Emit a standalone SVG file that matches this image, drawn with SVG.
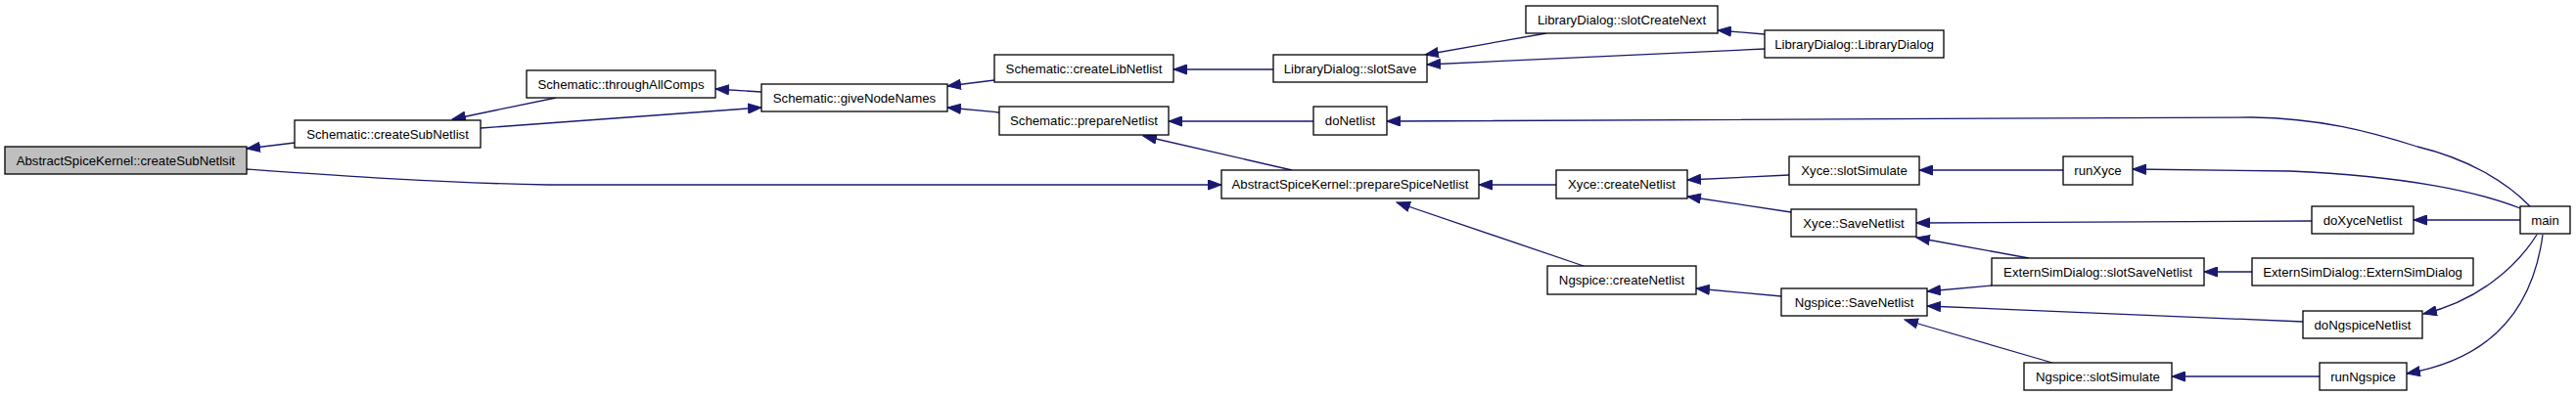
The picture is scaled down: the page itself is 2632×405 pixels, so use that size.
<svg xmlns="http://www.w3.org/2000/svg" width="2632" height="405" viewBox="0 0 2632 405">
<style>
.n rect{fill:#ffffff;stroke:#000000;stroke-width:1.3}
.n.root rect{fill:#bfbfbf}
.n text{font-family:"Liberation Sans",Arial,sans-serif;font-size:13.2px;fill:#000000;text-anchor:middle}
.e path{fill:none;stroke:#191970;stroke-width:1.3;marker-end:url(#ah)}
</style>
<defs>
<marker id="ah" markerUnits="userSpaceOnUse" markerWidth="15" markerHeight="11" viewBox="0 0 15 11" refX="14" refY="5.5" orient="auto">
<polygon points="0.5,0.5 14,5.5 0.5,10.5" fill="#191970" stroke="#191970" stroke-width="1"/>
</marker>
</defs>
<rect width="2632" height="405" fill="#ffffff"/>
<g id="connectors" class="e">
<path d="M301,146 L252,152"/>
<path d="M252,173 C350,180 450,187 560,189 L1248,189"/>
<path d="M568,100 L462,122"/>
<path d="M491,131 L778,110"/>
<path d="M778,94 L731,91"/>
<path d="M1016,82 L968,88"/>
<path d="M1021,115 L968,110"/>
<path d="M1301,71 L1199,71"/>
<path d="M1342,124 L1194,124"/>
<path d="M1320,174 L1168,139"/>
<path d="M1580,34 L1456,56"/>
<path d="M1803,50 L1458,66"/>
<path d="M1803,35 L1755,31"/>
<path d="M2585,211 C2560,185 2520,162 2470,150 C2420,134 2370,121 2300,120 L1417,124"/>
<path d="M1590,189 L1511,189"/>
<path d="M1618,272 L1427,207"/>
<path d="M1828,179 L1724,184"/>
<path d="M1830,217 L1724,201"/>
<path d="M2108,174 L1961,174"/>
<path d="M2575,213 C2535,197 2460,180 2340,175 L2179,173"/>
<path d="M2362,226 L1958,228"/>
<path d="M2575,225 L2466,225"/>
<path d="M2073,264 L1958,243"/>
<path d="M2301,278 L2252,278"/>
<path d="M2035,292 L1969,298"/>
<path d="M2353,329 L1969,313"/>
<path d="M2097,371 L1946,327"/>
<path d="M1820,303 L1733,295"/>
<path d="M2592,240 C2570,275 2530,308 2476,321"/>
<path d="M2598,240 C2590,300 2560,365 2459,382"/>
<path d="M2370,385 L2219,385"/>
</g>
<g id="n1" class="n root"><rect x="5" y="150" width="247" height="28"/><text x="128.5" y="168.6">AbstractSpiceKernel::createSubNetlsit</text></g>
<g id="n2" class="n"><rect x="301" y="123" width="190" height="28"/><text x="396" y="141.6">Schematic::createSubNetlist</text></g>
<g id="n3" class="n"><rect x="538" y="72" width="193" height="28"/><text x="634.5" y="90.6">Schematic::throughAllComps</text></g>
<g id="n4" class="n"><rect x="778" y="86" width="190" height="28"/><text x="873" y="104.6">Schematic::giveNodeNames</text></g>
<g id="n5" class="n"><rect x="1016" y="56" width="183" height="28"/><text x="1107.5" y="74.6">Schematic::createLibNetlist</text></g>
<g id="n6" class="n"><rect x="1021" y="109" width="173" height="29"/><text x="1107.5" y="128.1">Schematic::prepareNetlist</text></g>
<g id="n7" class="n"><rect x="1301" y="56" width="157" height="28"/><text x="1379.5" y="74.6">LibraryDialog::slotSave</text></g>
<g id="n8" class="n"><rect x="1342" y="109" width="75" height="29"/><text x="1379.5" y="128.1">doNetlist</text></g>
<g id="n9" class="n"><rect x="1559" y="6" width="196" height="28"/><text x="1657" y="24.6">LibraryDialog::slotCreateNext</text></g>
<g id="n10" class="n"><rect x="1803" y="31" width="183" height="28"/><text x="1894.5" y="49.6">LibraryDialog::LibraryDialog</text></g>
<g id="n11" class="n"><rect x="1248" y="174" width="263" height="29"/><text x="1379.5" y="193.1">AbstractSpiceKernel::prepareSpiceNetlist</text></g>
<g id="n12" class="n"><rect x="1590" y="174" width="134" height="29"/><text x="1657" y="193.1">Xyce::createNetlist</text></g>
<g id="n13" class="n"><rect x="1581" y="272" width="152" height="29"/><text x="1657" y="291.1">Ngspice::createNetlist</text></g>
<g id="n14" class="n"><rect x="1828" y="160" width="133" height="29"/><text x="1894.5" y="179.1">Xyce::slotSimulate</text></g>
<g id="n15" class="n"><rect x="1830" y="214" width="128" height="28"/><text x="1894" y="232.6">Xyce::SaveNetlist</text></g>
<g id="n16" class="n"><rect x="2108" y="160" width="71" height="29"/><text x="2143.5" y="179.1">runXyce</text></g>
<g id="n17" class="n"><rect x="1820" y="295" width="149" height="28"/><text x="1894.5" y="313.6">Ngspice::SaveNetlist</text></g>
<g id="n18" class="n"><rect x="2035" y="264" width="217" height="28"/><text x="2143.5" y="282.6">ExternSimDialog::slotSaveNetlist</text></g>
<g id="n19" class="n"><rect x="2301" y="264" width="226" height="28"/><text x="2414" y="282.6">ExternSimDialog::ExternSimDialog</text></g>
<g id="n20" class="n"><rect x="2362" y="211" width="104" height="28"/><text x="2414" y="229.6">doXyceNetlist</text></g>
<g id="n21" class="n"><rect x="2353" y="318" width="122" height="28"/><text x="2414" y="336.6">doNgspiceNetlist</text></g>
<g id="n22" class="n"><rect x="2068" y="371" width="151" height="28"/><text x="2143.5" y="389.6">Ngspice::slotSimulate</text></g>
<g id="n23" class="n"><rect x="2370" y="371" width="89" height="28"/><text x="2414.5" y="389.6">runNgspice</text></g>
<g id="n24" class="n"><rect x="2575" y="211" width="51" height="28"/><text x="2600.5" y="229.6">main</text></g>
</svg>
